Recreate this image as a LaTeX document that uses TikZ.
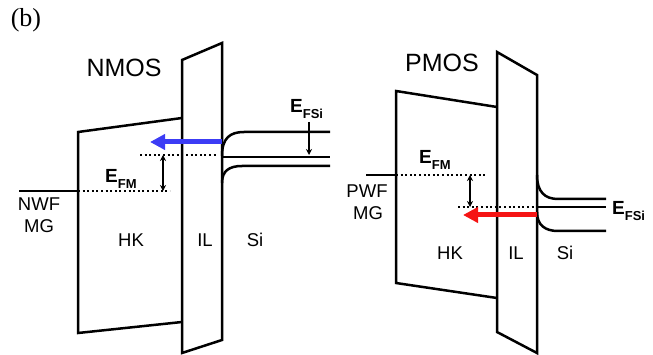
\documentclass[tikz,border=0pt]{standalone}
\usepackage{fontspec}
\setmainfont{Liberation Serif}
\setsansfont{Liberation Sans}
\usepackage{tikz}
\usetikzlibrary{arrows.meta,calc}
\definecolor{tunnelblue}{RGB}{60,60,245}
\definecolor{tunnelred}{RGB}{245,20,20}

\tikzset{
  band/.style={line width=2.5pt,line join=miter},
  fermidots/.style={line width=2pt,dash pattern=on 2pt off 2.6pt},
  gaparrow/.style={line width=1.6pt,{Stealth[length=6pt,width=6pt]}-{Stealth[length=6pt,width=6pt]}},
  levelarrow/.style={line width=1.6pt,-{Stealth[length=6pt,width=6pt]}},
  tunnel/.style={line width=5pt,-{Triangle[length=15pt,width=15pt]}},
  lbl/.style={font=\sffamily\fontsize{18.5}{18.5}\selectfont,inner sep=0pt,anchor=base},
  elbl/.style={font=\sffamily\bfseries\fontsize{19}{19}\selectfont,inner sep=0pt,anchor=base west},
  title/.style={font=\sffamily\fontsize{25}{25}\selectfont,inner sep=0pt},
}
\newcommand{\elevel}[1]{E\raisebox{-6pt}{\fontsize{13}{13}\selectfont #1}}

\begin{document}
\begin{tikzpicture}[x=1pt,y=-1pt]
    \useasboundingbox (0,0) rectangle (653,355);
    \node[font=\fontsize{26}{26}\selectfont,inner sep=0pt] (tag) at (26,20) {(b)};

    % NMOS stack
    \node[title] (ntitle) at (124,68) {NMOS};
    \draw[band] (182,118) -- (78,132) -- (78,333) -- (182,322);
    \draw[band] (182,60) -- (222,43) -- (222,340) -- (182,353) -- cycle;
    \draw[band] (19,191) -- (78,191);
    \draw[fermidots] (78,191) -- (170,191);
    \draw[fermidots] (140,155) -- (217,155);
    \coordinate (nlo) at (163,191);
    \coordinate (nhi) at (163,155);
    \draw[gaparrow] (nlo) -- (nhi);
    % NMOS silicon bands
    \draw[band] (222,156) .. controls (222,138) and (230,132) .. (244,132) -- (330,132);
    \draw[band] (222,157) -- (330,157);
    \draw[band] (222,183) .. controls (222,171) and (229,166) .. (242,166) -- (330,166);
    \coordinate (nsitop) at (309,122);
    \coordinate (nsifermi) at (309,155);
    \draw[levelarrow] (nsitop) -- (nsifermi);
    \coordinate (nsrc) at (222,142);
    \coordinate (ntip) at (150,142);
    \draw[tunnel,tunnelblue] (nsrc) -- (ntip);
    \node[elbl] (nefsi) at (290,113) {\elevel{FSi}};
    \node[elbl] (nefm) at (105,183) {\elevel{FM}};
    \node[lbl] (nnwf) at (39,211) {NWF};
    \node[lbl] (nmg) at (39,233) {MG};
    \node[lbl] (nhk) at (131,247) {HK};
    \node[lbl] (nil) at (205,247) {IL};
    \node[lbl] (nsi) at (255,247) {Si};

    % PMOS stack
    \node[title] (ptitle) at (442,63) {PMOS};
    \draw[band] (497,107) -- (396,91) -- (396,283) -- (497,298);
    \draw[band] (497,52) -- (537,75) -- (537,353) -- (497,332) -- cycle;
    \draw[band] (366,175) -- (396,175);
    \draw[fermidots] (396,175) -- (485,175);
    \draw[fermidots] (458,207) -- (537,207);
    \coordinate (phi) at (470,175);
    \coordinate (plo) at (470,207);
    \draw[gaparrow] (phi) -- (plo);
    % PMOS silicon bands
    \draw[band] (537,175) .. controls (537,192) and (545,199) .. (558,199) -- (606,199);
    \draw[band] (537,207) -- (606,207);
    \draw[band] (537,212) .. controls (537,225) and (545,231) .. (558,231) -- (606,231);
    \coordinate (psrc) at (537,215);
    \coordinate (ptip) at (463,215);
    \draw[tunnel,tunnelred] (psrc) -- (ptip);
    \node[elbl] (pefsi) at (612,215) {\elevel{FSi}};
    \node[elbl] (pefm) at (419,164) {\elevel{FM}};
    \node[lbl] (ppwf) at (367,198) {PWF};
    \node[lbl] (pmg) at (368,220) {MG};
    \node[lbl] (phk) at (450,260) {HK};
    \node[lbl] (pil) at (516,260) {IL};
    \node[lbl] (psi) at (565,260) {Si};
\end{tikzpicture}
\end{document}
